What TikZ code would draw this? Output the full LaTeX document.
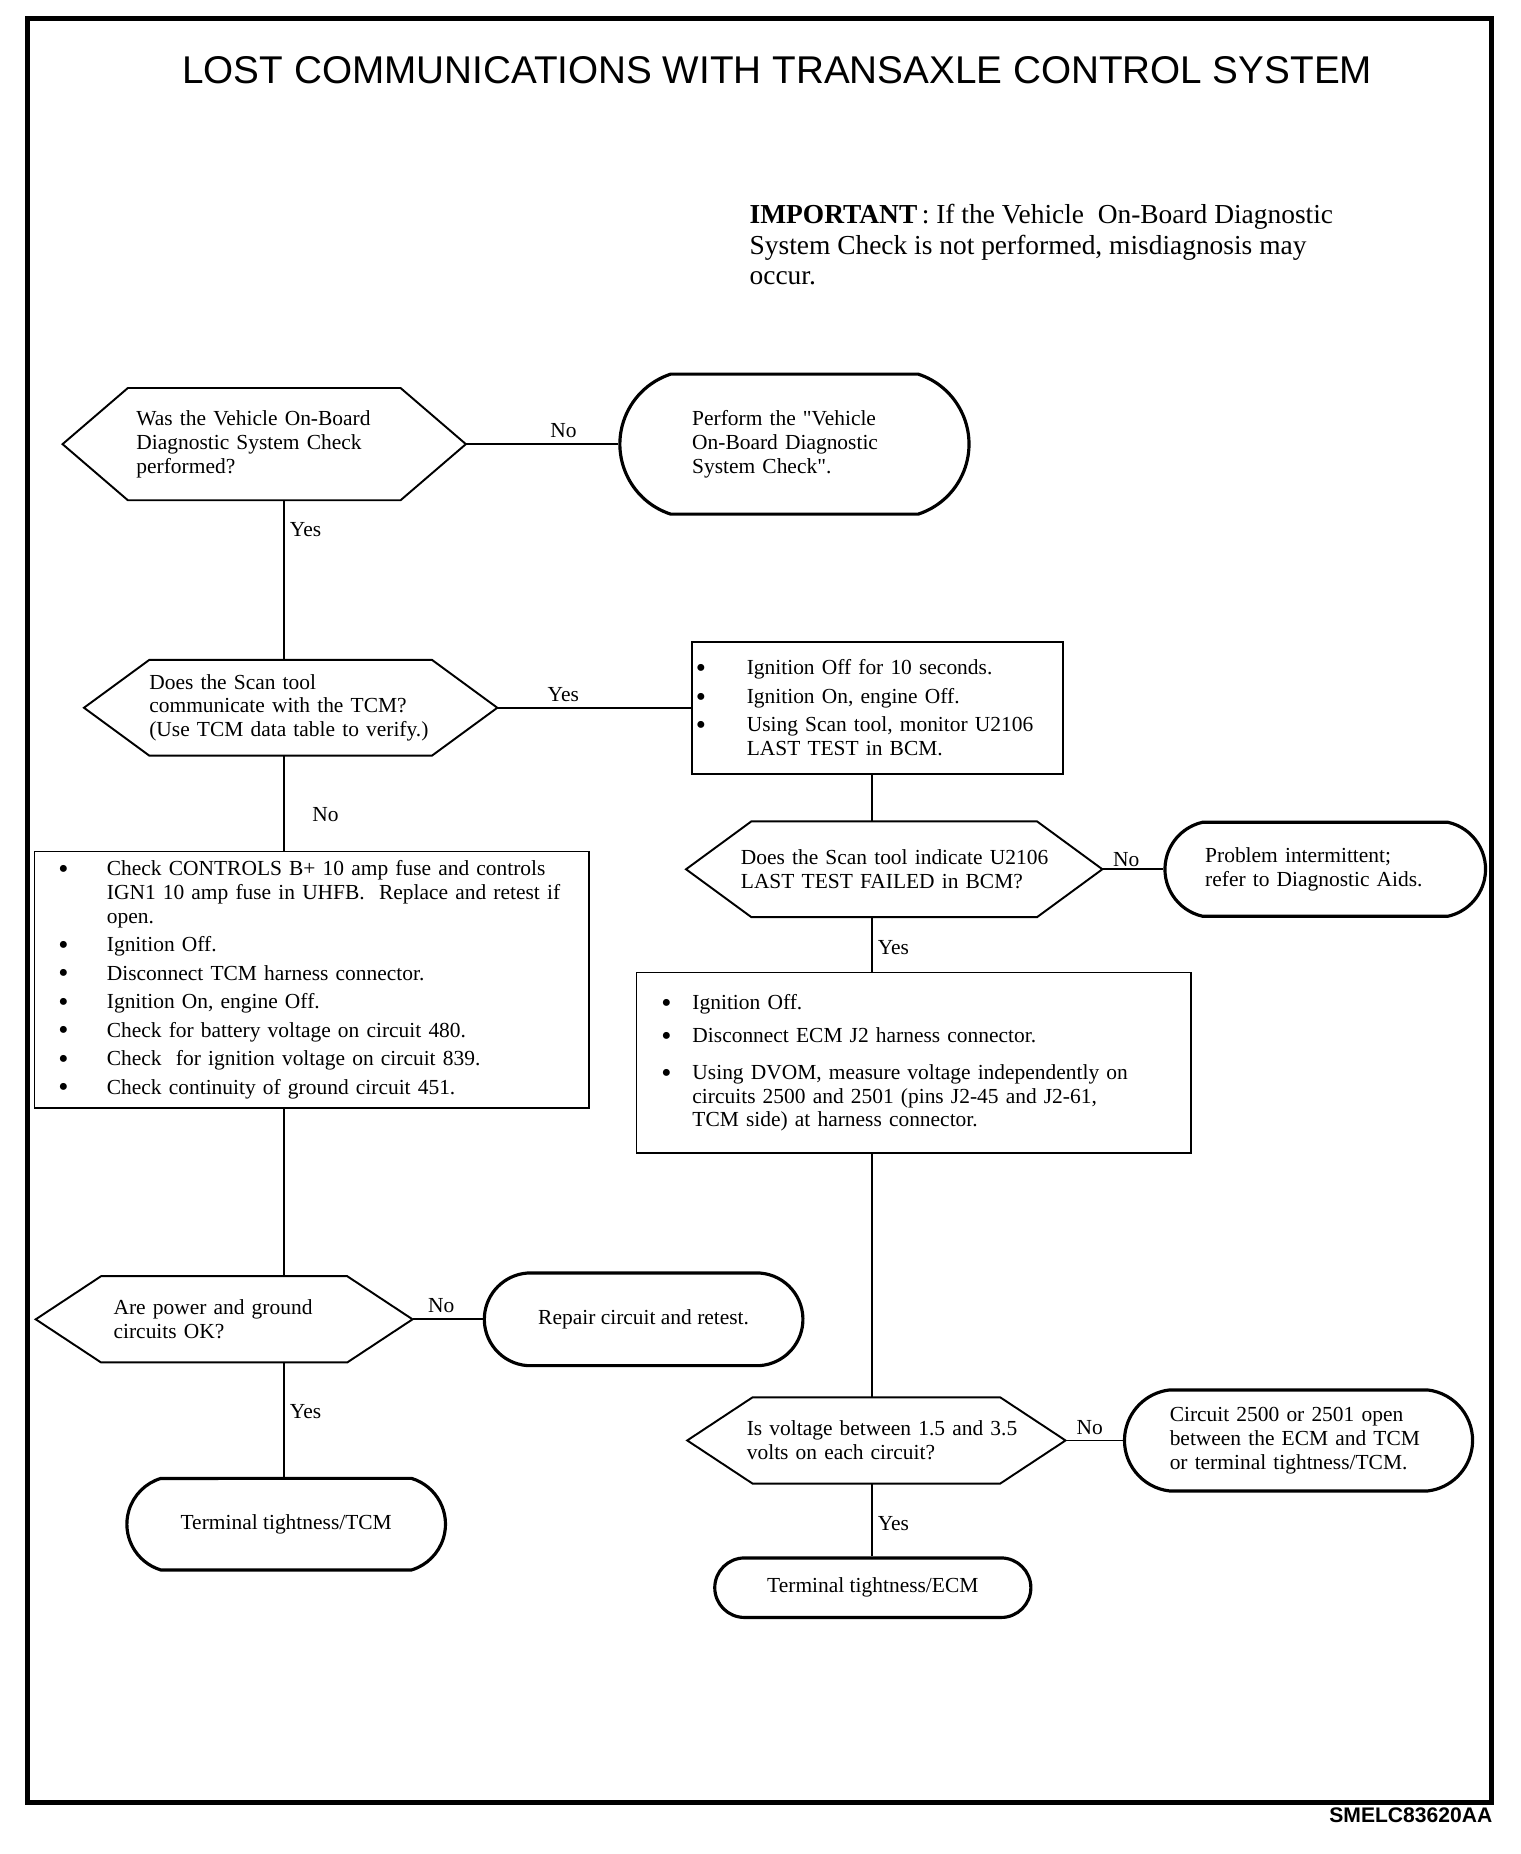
\documentclass[tikz,border=0pt]{standalone}
\usepackage{fontspec}
\setmainfont{Liberation Serif}
\newfontfamily\headfont{Liberation Sans}
\usetikzlibrary{shapes.misc, calc, positioning}

\newlength{\bulw}
\newcommand{\bitem}[1]{\makebox[\bulw][l]{\raisebox{-0.28ex}{\scalebox{1.35}{\textbullet}}}\mbox{#1}}
\newcommand{\bcont}[1]{\hspace*{\bulw}\mbox{#1}}

\begin{document}
\begin{tikzpicture}[x=0.02375cm,y=-0.02375cm,font=\fontsize{12.2}{13.5}\selectfont]

	\tikzset{decision/.style={rectangle, inner sep=0pt, align=left}}
	\tikzset{hexline/.style={line width=1.1pt}}
	\tikzset{terminal/.style={rounded rectangle, draw, line width=1.8pt,
			rounded rectangle arc length=#1, inner sep=0pt, align=left},
		terminal/.default=180}
	\tikzset{stepbox/.style={rectangle, draw, line width=0.9pt, inner ysep=0pt,
			align=left, execute at begin node={\setlength{\bulw}{#1}}}}
	\tikzset{link/.style={line width=1pt}}
	\tikzset{answer/.style={inner sep=3pt}}

	\useasboundingbox (0,0) rectangle (1280,1561.26);
	\draw[line width=2.6pt] (23,15.5) rectangle (1256,1518);

	\node[inner sep=0pt, font=\headfont\fontsize{22}{24}\selectfont] (title) at (654.5,59.5)
	{LOST COMMUNICATIONS WITH TRANSAXLE CONTROL SYSTEM};
	\node[anchor=north west, inner sep=0pt, align=left, font=\fontsize{15.6}{17.2}\selectfont] (note) at (631,172)
	{\textbf{IMPORTANT}\,: If the Vehicle\ \ On-Board Diagnostic\\
		System Check is not performed, misdiagnosis may\\
		occur.};

	% questions
	\node[decision, minimum width=8.05cm, minimum height=2.23cm, text width=5.11cm] (d1) at (222.5,374)
	{\mbox{Was the Vehicle On-Board}\\\mbox{Diagnostic System Check}\\\mbox{performed?}};
	\node[decision, minimum width=8.25cm, minimum height=1.9cm, text width=5.65cm] (d2) at (244.75,596)
	{\mbox{Does the Scan tool}\\\mbox{communicate with the TCM?}\\\mbox{(Use TCM data table to verify.)}};
	\node[decision, minimum width=8.31cm, minimum height=1.9cm, text width=6.13cm] (d3) at (753,732)
	{\mbox{Does the Scan tool indicate U2106}\\\mbox{LAST TEST FAILED in BCM?}};
	\node[decision, minimum width=7.52cm, minimum height=1.71cm, text width=4.42cm] (d4) at (188.75,1111)
	{\mbox{Are power and ground}\\\mbox{circuits OK?}};
	\node[decision, minimum width=7.55cm, minimum height=1.71cm, text width=5.18cm] (d5) at (738,1213)
	{\mbox{Is voltage between 1.5 and 3.5}\\\mbox{volts on each circuit?}};

	\foreach \n in {d1,d2,d3,d4,d5}
	\draw[hexline] (\n.west) -- ($(\n.north west)+(55,0)$) -- ($(\n.north east)+(-55,0)$)
	-- (\n.east) -- ($(\n.south east)+(-55,0)$) -- ($(\n.south west)+(55,0)$) -- cycle;

	% end points
	\node[terminal=144, minimum width=6.98cm, minimum height=2.8cm, text width=4.09cm] (t1) at (669,374)
	{\mbox{Perform the \textquotedbl Vehicle}\\\mbox{On-Board Diagnostic}\\\mbox{System Check\textquotedbl.}};
	\node[terminal=155, minimum width=6.41cm, minimum height=1.88cm, text width=4.8cm] (t2) at (1116,732)
	{\mbox{Problem intermittent;}\\\mbox{refer to Diagnostic Aids.}};
	\node[terminal=171, minimum width=6.37cm, minimum height=1.85cm] (t3) at (542,1111)
	{Repair circuit and retest.};
	\node[terminal=146, minimum width=6.37cm, minimum height=1.83cm] (t4) at (241,1283.5)
	{Terminal tightness/TCM};
	\node[terminal=167, minimum width=6.96cm, minimum height=2.02cm, text width=5.15cm] (t5) at (1093.5,1213)
	{\mbox{Circuit 2500 or 2501 open}\\\mbox{between the ECM and TCM}\\\mbox{or terminal tightness/TCM.}};
	\node[terminal, minimum width=6.32cm, minimum height=1.19cm] (t6) at (735,1337)
	{Terminal tightness/ECM};

	% checks
	\node[stepbox=1.02cm, inner xsep=0.07cm, minimum width=7.41cm, minimum height=2.64cm, text width=7.27cm] (b1) at (739,596)
	{\bitem{Ignition Off for 10 seconds.}\\[2.7pt]
		\bitem{Ignition On, engine Off.}\\[2.7pt]
		\bitem{Using Scan tool, monitor U2106}\\
		\bcont{LAST TEST in BCM.}};
	\node[stepbox=0.97cm, inner xsep=0.48cm, minimum width=11.09cm, minimum height=5.13cm, text width=10.13cm] (b2) at (262.5,825)
	{\bitem{Check CONTROLS B+ 10 amp fuse and controls}\\
		\bcont{IGN1 10 amp fuse in UHFB.\ \ Replace and retest if}\\
		\bcont{open.}\\[2.7pt]
		\bitem{Ignition Off.}\\[2.7pt]
		\bitem{Disconnect TCM harness connector.}\\[2.7pt]
		\bitem{Ignition On, engine Off.}\\[2.7pt]
		\bitem{Check for battery voltage on circuit 480.}\\[2.7pt]
		\bitem{Check\ \ for ignition voltage on circuit 839.}\\[2.7pt]
		\bitem{Check continuity of ground circuit 451.}};
	\node[stepbox=0.62cm, inner xsep=0.5cm, minimum width=11.09cm, minimum height=3.61cm, text width=10.09cm] (b3) at (769.5,895)
	{\bitem{Ignition Off.}\\[5.4pt]
		\bitem{Disconnect ECM J2 harness connector.}\\[7.4pt]
		\bitem{Using DVOM, measure voltage independently on}\\
		\bcont{circuits 2500 and 2501 (pins J2-45 and J2-61,}\\
		\bcont{TCM side) at harness connector.}};

	\coordinate (colL) at (239,0);
	\coordinate (colR) at (734,0);

	\draw[link] (d1.east) -- (t1.west) node[answer, pos=0.64, above] {No};
	\draw[link] (d1.south -| colL) -- (d2.north -| colL) node[answer, pos=0.185, right] {Yes};
	\draw[link] (d2.east) -- (b1.west) node[answer, pos=0.34, above] {Yes};
	\draw[link] (d2.south -| colL) -- (b2.north -| colL) node[answer, pos=0.62, right, xshift=0.45cm] {No};
	\draw[link] (b1.south -| colR) -- (d3.north -| colR);
	\draw[link] (d3.east) -- (t2.west) node[answer, pos=0.39, above, inner sep=1pt] {No};
	\draw[link] (d3.south -| colR) -- (b3.north -| colR) node[answer, pos=0.56, right] {Yes};
	\draw[link] (b3.south -| colR) -- (d5.north -| colR);
	\draw[link] (b2.south -| colL) -- (d4.north -| colL);
	\draw[link] (d4.east) -- (t3.west) node[answer, pos=0.41, above] {No};
	\draw[link] (d4.south -| colL) -- (t4.north -| colL) node[answer, pos=0.43, right] {Yes};
	\draw[link] (d5.east) -- (t5.west) node[answer, pos=0.42, above] {No};
	\draw[link] (d5.south -| colR) -- (t6.north -| colR) node[answer, pos=0.556, right] {Yes};

	\node[anchor=base east, inner sep=0pt, font=\headfont\bfseries\fontsize{12}{14}\selectfont] (figid) at (1257,1535)
	{SMELC83620AA};
\end{tikzpicture}
\end{document}
